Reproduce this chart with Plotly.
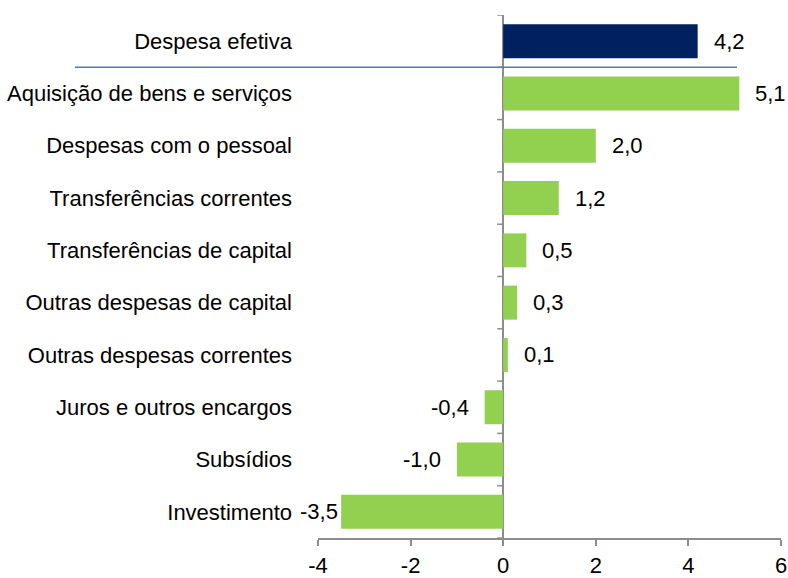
import plotly.graph_objects as go

categories = [
    "Despesa efetiva",
    "Aquisição de bens e serviços",
    "Despesas com o pessoal",
    "Transferências correntes",
    "Transferências de capital",
    "Outras despesas de capital",
    "Outras despesas correntes",
    "Juros e outros encargos",
    "Subsídios",
    "Investimento",
]
values = [4.2, 5.1, 2.0, 1.2, 0.5, 0.3, 0.1, -0.4, -1.0, -3.5]
x_ticks = [-4, -2, 0, 2, 4, 6]

NAVY = "#002060"
GREEN = "#92D050"
GRAY = "#8c8c8c"
FONT = "Liberation Sans"
FS = 22

n = len(categories)
ypos = [n - 1 - i for i in range(n)]  # top to bottom
colors = [NAVY] + [GREEN] * (n - 1)

fig = go.Figure()
fig.add_trace(go.Bar(
    x=values, y=ypos, orientation="h",
    marker=dict(color=colors, line=dict(width=0)),
    width=0.65, hoverinfo="skip", showlegend=False,
))

def fmt(v):
    return f"{v:.1f}".replace(".", ",")

xmin, xmax = x_ticks[0], x_ticks[-1]
for v, y in zip(values, ypos):
    gap = 14
    if v < 0 and v - (gap + 40) / 46.3 < xmin:
        gap = 1
    fig.add_annotation(
        x=v, y=y, xref="x", yref="y", text=fmt(v), showarrow=False,
        xanchor="left" if v >= 0 else "right",
        xshift=gap if v >= 0 else -gap,
        font=dict(family=FONT, size=FS, color="#000"),
    )

# category boundary tick marks on zero line
for k in range(n + 1):
    fig.add_shape(
        type="line", xref="x", yref="y", xsizemode="pixel", xanchor=0,
        x0=-6, x1=0, y0=k - 0.5, y1=k - 0.5,
        line=dict(color=GRAY, width=1.5),
    )

# separator under first row
fig.add_shape(
    type="line", xref="paper", yref="y",
    x0=-0.525, x1=0.905, y0=n - 1.5, y1=n - 1.5,
    line=dict(color="#4a7ebb", width=1.5),
)

fig.update_layout(
    width=788, height=578,
    margin=dict(l=318, r=7, t=15, b=40, autoexpand=False),
    paper_bgcolor="white", plot_bgcolor="white",
    font=dict(family=FONT, size=FS, color="#000"),
    bargap=0.35,
)
fig.update_xaxes(
    range=[xmin, xmax], tickvals=x_ticks,
    ticktext=[str(t) for t in x_ticks],
    showgrid=False, zeroline=True, zerolinecolor=GRAY, zerolinewidth=1.5,
    showline=True, linecolor=GRAY, linewidth=1.5,
    ticks="outside", ticklen=6, tickcolor=GRAY, tickwidth=1.5,
    ticklabelstandoff=1, automargin=False,
    tickfont=dict(family=FONT, size=FS),
)
fig.update_yaxes(
    range=[-0.5, n - 0.5], tickvals=ypos, ticktext=categories,
    showgrid=False, zeroline=False, showline=False, ticks="",
    ticklabelstandoff=25, automargin=False,
    tickfont=dict(family=FONT, size=FS),
)

fig.write_html(
    "out.html",
    config={"displayModeBar": False},
    post_script="document.body.style.margin='0';document.body.style.overflow='hidden';",
)
